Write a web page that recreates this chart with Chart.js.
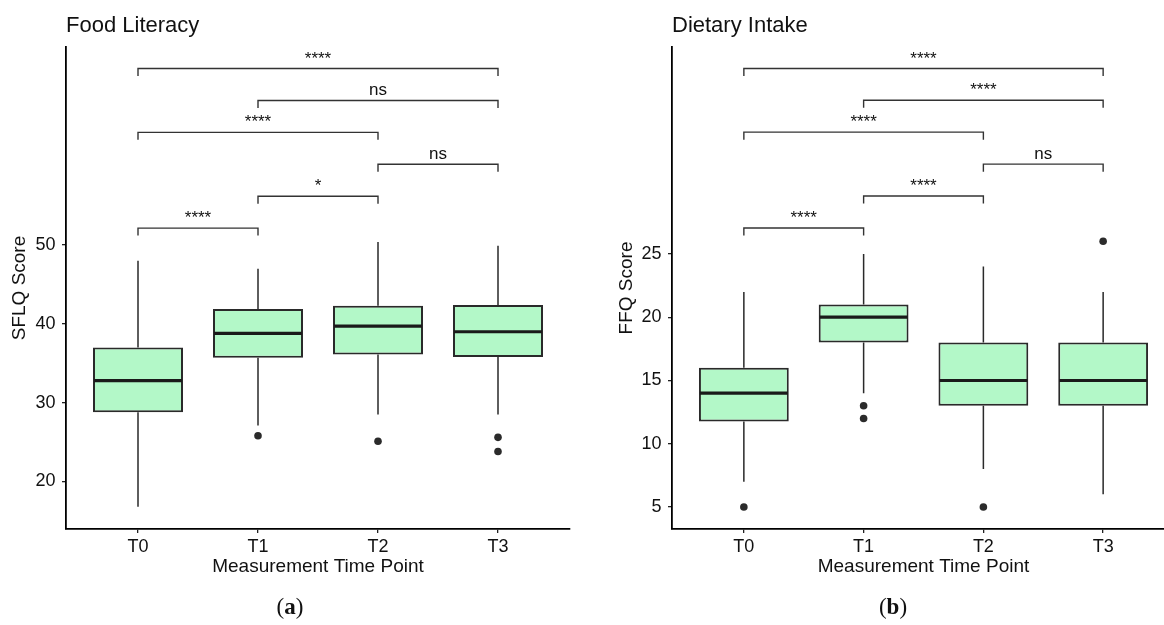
<!DOCTYPE html>
<html>
<head>
<meta charset="utf-8">
<script src="https://cdn.jsdelivr.net/npm/chart.js@4.4.0/dist/chart.umd.min.js"></script>
<style>
    html, body { margin: 0; padding: 0; background: #fff; overflow: hidden; }
    body { width: 1164px; height: 625px; position: relative; }
    .panel { position: absolute; top: 0; height: 625px; }
    #left { left: 0; width: 582px; }
    #right { left: 582px; width: 620px; }
    .tag {
        position: absolute; top: 594px; transform: translateX(-50%);
        font: 23px "Liberation Serif", "DejaVu Serif", serif; color: #111;
    }
</style>
</head>
<body>
<div class="panel" id="left"><canvas id="food-literacy-chart" width="582" height="625"></canvas></div>
<div class="panel" id="right"><canvas id="dietary-intake-chart" width="620" height="625"></canvas></div>
<div class="tag" style="left:290px">(<b>a</b>)</div>
<div class="tag" style="left:893px">(<b>b</b>)</div>
<script>
const categories = ['T0', 'T1', 'T2', 'T3']

// Food Literacy, SFLQ score
const sflq_low = [16.8, 27.1, 28.5, 28.5]
const sflq_q1 = [28.8, 35.7, 36.1, 35.8]
const sflq_median = [32.8, 38.8, 39.7, 39.0]
const sflq_q3 = [37.0, 41.9, 42.3, 42.4]
const sflq_high = [48.0, 47.0, 50.4, 49.9]
const sflq_outliers = [[], [25.8], [25.1], [25.6, 23.8]]
const sflq_ticks = [20, 30, 40, 50]

// Dietary Intake, FFQ score
const ffq_low = [7, 14, 8, 6]
const ffq_q1 = [11.75, 18, 13, 13]
const ffq_median = [14, 20, 15, 15]
const ffq_q3 = [16, 21, 18, 18]
const ffq_high = [22, 25, 24, 22]
const ffq_outliers = [[5], [13, 12], [5], [26]]
const ffq_ticks = [5, 10, 15, 20, 25]

// pairwise comparisons (index into categories)
const comparisons = [[0, 1], [1, 2], [2, 3], [0, 2], [1, 3], [0, 3]]
const sflq_bracket_y = [52.15, 56.2, 60.25, 64.3, 68.35, 72.4]
const sflq_signif = ['****', '*', 'ns', '****', 'ns', '****']
const ffq_bracket_y = [27.05, 29.58, 32.1, 34.63, 37.15, 39.66]
const ffq_signif = ['****', '****', 'ns', '****', '****', '****']

const FONT = "'Liberation Sans', Arial, Helvetica, sans-serif"
const INK = '#111'

const box_parts = (s) => ({
    id: 'box_parts',
    beforeDatasetsDraw(chart) {
        const { ctx, scales: { x, y } } = chart
        ctx.save()
        ctx.strokeStyle = '#2a2a2a'
        ctx.lineWidth = 1.5
        categories.forEach((c, i) => {
            const px = x.getPixelForValue(i)
            ctx.beginPath()
            ctx.moveTo(px, y.getPixelForValue(s.high[i]))
            ctx.lineTo(px, y.getPixelForValue(s.q3[i]))
            ctx.moveTo(px, y.getPixelForValue(s.q1[i]))
            ctx.lineTo(px, y.getPixelForValue(s.low[i]))
            ctx.stroke()
        })
        ctx.restore()
    },
    afterDatasetsDraw(chart) {
        const { ctx, scales: { x, y } } = chart
        ctx.save()

        // medians
        ctx.strokeStyle = '#1a1a1a'
        ctx.lineWidth = 3.2
        chart.getDatasetMeta(0).data.forEach((bar, i) => {
            const py = y.getPixelForValue(s.median[i])
            ctx.beginPath()
            ctx.moveTo(bar.x - bar.width / 2 + 1, py)
            ctx.lineTo(bar.x + bar.width / 2 - 1, py)
            ctx.stroke()
        })

        // significance brackets
        ctx.strokeStyle = '#333'
        ctx.lineWidth = 1.4
        ctx.fillStyle = INK
        ctx.font = '17px ' + FONT
        ctx.textAlign = 'center'
        ctx.textBaseline = 'alphabetic'
        s.bracket_y.forEach((v, k) => {
            const [a, b] = comparisons[k]
            const x1 = x.getPixelForValue(a)
            const x2 = x.getPixelForValue(b)
            const py = y.getPixelForValue(v)
            ctx.beginPath()
            ctx.moveTo(x1, py + 7.5)
            ctx.lineTo(x1, py)
            ctx.lineTo(x2, py)
            ctx.lineTo(x2, py + 7.5)
            ctx.stroke()
            ctx.fillText(s.signif[k], (x1 + x2) / 2, py - 5)
        })

        // panel title
        ctx.font = '22px ' + FONT
        ctx.textAlign = 'left'
        ctx.fillText(s.title, chart.chartArea.left, 32)
        ctx.restore()
    },
})

const box_chart = (id, s) => {
    const ctx = document.getElementById(id)

    new Chart(ctx, {
        type: 'bar',
        data: {
            datasets: [{
                type: 'bar',
                data: categories.map((c, i) => ({ x: i, y: [s.q1[i], s.q3[i]] })),
                backgroundColor: '#b3f8c8',
                borderColor: '#2a2a2a',
                borderWidth: 2,
                borderSkipped: false,
                barPercentage: 0.75,
                categoryPercentage: 1,
            }, {
                type: 'scatter',
                data: s.outliers.flatMap((vals, i) => vals.map(v => ({ x: i, y: v }))),
                pointRadius: 3.8,
                pointBackgroundColor: '#2b2b2b',
                pointBorderWidth: 0,
            }],
        },
        options: {
            responsive: false,
            animation: false,
            events: [],
            layout: { padding: { left: 0, top: 47, right: s.pad_right, bottom: 46 } },
            plugins: {
                legend: { display: false },
                tooltip: { enabled: false },
            },
            scales: {
                x: {
                    type: 'linear',
                    offset: false,
                    min: -0.6,
                    max: 3.6,
                    afterBuildTicks: (axis) => { axis.ticks = categories.map((c, i) => ({ value: i })) },
                    afterFit: (axis) => { axis.height = 50 },
                    ticks: {
                        callback: (v) => categories[v],
                        autoSkip: false,
                        maxRotation: 0,
                        padding: 3,
                        color: INK,
                        font: { family: FONT, size: 18 },
                    },
                    grid: { offset: false, drawOnChartArea: false, drawTicks: true, tickLength: 4, color: '#222', lineWidth: 1.3 },
                    border: { display: true, color: '#000', width: 1.8 },
                    title: {
                        display: true,
                        text: 'Measurement Time Point',
                        color: INK,
                        font: { family: FONT, size: 19 },
                        padding: { top: 0, bottom: 1 },
                    },
                },
                y: {
                    min: s.y_min,
                    max: s.y_max,
                    afterBuildTicks: (axis) => { axis.ticks = s.ticks.map(v => ({ value: v })) },
                    afterFit: (axis) => { axis.width = s.axis_width },
                    ticks: {
                        padding: 6.5,
                        color: INK,
                        font: { family: FONT, size: 18 },
                    },
                    grid: { drawOnChartArea: false, drawTicks: true, tickLength: 4, color: '#222', lineWidth: 1.3 },
                    border: { display: true, color: '#000', width: 1.8 },
                    title: {
                        display: true,
                        text: s.y_label,
                        color: INK,
                        font: { family: FONT, size: 19 },
                        padding: { top: s.y_title_pad, bottom: 0 },
                    },
                },
            },
        },
        plugins: [box_parts(s)],
    })
}

box_chart('food-literacy-chart', {
    title: 'Food Literacy',
    y_label: 'SFLQ Score',
    low: sflq_low, q1: sflq_q1, median: sflq_median, q3: sflq_q3, high: sflq_high,
    outliers: sflq_outliers,
    ticks: sflq_ticks,
    bracket_y: sflq_bracket_y,
    signif: sflq_signif,
    y_min: 13.97, y_max: 75.13,
    axis_width: 66, pad_right: 12, y_title_pad: 8.3,
})

box_chart('dietary-intake-chart', {
    title: 'Dietary Intake',
    y_label: 'FFQ Score',
    low: ffq_low, q1: ffq_q1, median: ffq_median, q3: ffq_q3, high: ffq_high,
    outliers: ffq_outliers,
    ticks: ffq_ticks,
    bracket_y: ffq_bracket_y,
    signif: ffq_signif,
    y_min: 3.26, y_max: 41.36,
    axis_width: 90, pad_right: 27, y_title_pad: 33,
})
</script>
</body>
</html>
